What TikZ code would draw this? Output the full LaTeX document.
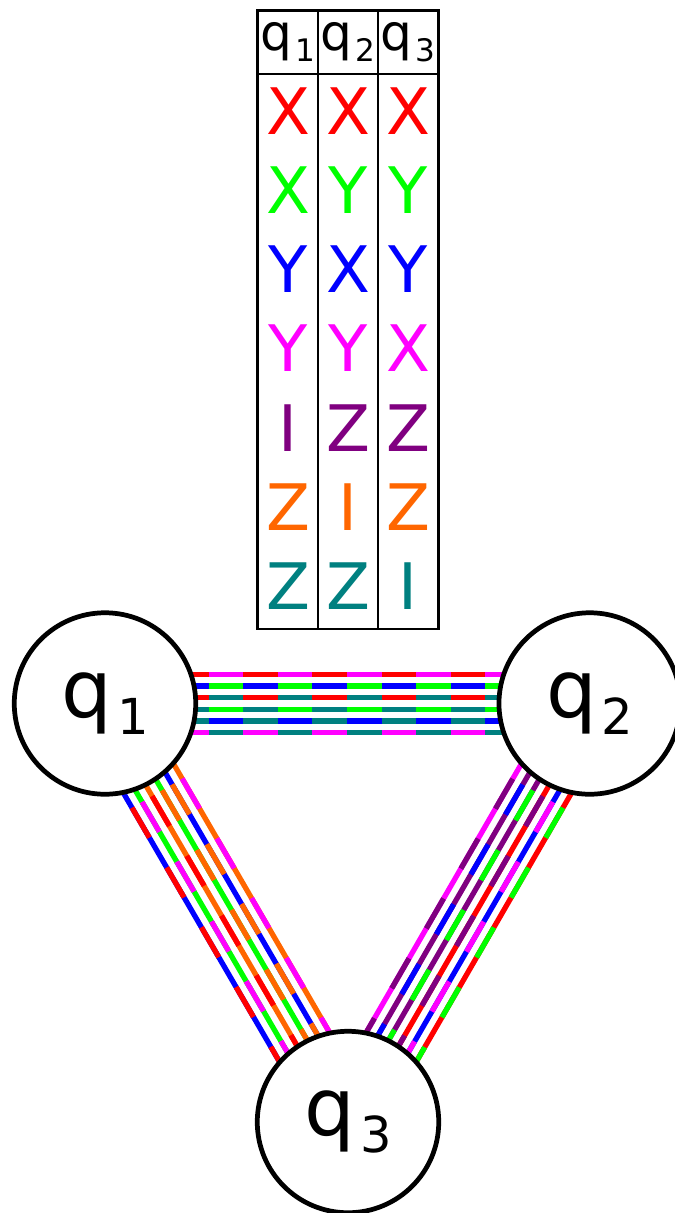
\documentclass[tikz,border=0pt]{standalone}
\usepackage{fontspec}
\usepackage{graphicx}
\setmainfont{DejaVu Sans}
\usetikzlibrary{calc, backgrounds}
\definecolor{pxred}{HTML}{FF0000}
\definecolor{pxgreen}{HTML}{00FF00}
\definecolor{pxblue}{HTML}{0000FF}
\definecolor{pxmag}{HTML}{FF00FF}
\definecolor{pxpurple}{HTML}{800080}
\definecolor{pxorange}{HTML}{FF6600}
\definecolor{pxteal}{HTML}{008080}
\newcommand{\qlab}[1]{q\kern0.06em\raisebox{-0.21em}{\scalebox{0.62}{#1}}}
\tikzset{
  qubit/.style={draw, circle, line width=2.7pt, fill=white, minimum size=3.63cm, inner sep=0pt, font=\fontsize{45.5}{45.5}\selectfont},
  head/.style={inner sep=0pt, font=\fontsize{28.5}{28.5}\selectfont},
  cell/.style={inner sep=0pt, text=#1, font=\fontsize{36.5}{36.5}\selectfont},
  grid/.style={line width=1.25pt},
  link/.style={line width=3pt, draw=#1},
  altdash/.style={dash pattern=on 0.6914cm off 0.6914cm, dash phase=0.6914cm},
}

\begin{document}
\begin{tikzpicture}[x=0.02cm, y=-0.02cm]
  \useasboundingbox (0,0) rectangle (675,1213);
  % table of terms
  \draw[grid] (257.5,10.5) rectangle (438.5,629);
  \draw[grid] (257.5,74) -- (438.5,74);
  \draw[grid] (318.3,10.5) -- (318.3,629);
  \draw[grid] (378.3,10.5) -- (378.3,629);
  \node[head] (h1) at (288,42) {\qlab{1}};
  \node[head] (h2) at (348,42) {\qlab{2}};
  \node[head] (h3) at (408,42) {\qlab{3}};
  \foreach \a/\b/\c/\col [count=\i] in {X/X/X/pxred, X/Y/Y/pxgreen, Y/X/Y/pxblue, Y/Y/X/pxmag, I/Z/Z/pxpurple, Z/I/Z/pxorange, Z/Z/I/pxteal} {
    \node[cell=\col] (r\i c1) at (288,{74+79.3*(\i-0.5)-3}) {\a};
    \node[cell=\col] (r\i c2) at (348,{74+79.3*(\i-0.5)-3}) {\b};
    \node[cell=\col] (r\i c3) at (408,{74+79.3*(\i-0.5)-3}) {\c};
  }
  % qubits
  \node[qubit] (q1) at (105,703.5) {\qlab{1}};
  \node[qubit] (q2) at (589.7,703.5) {\qlab{2}};
  \node[qubit] (q3) at (348,1122) {\qlab{3}};
  % two-colour links
  \begin{scope}[on background layer]
  \foreach \o/\ca/\cb in {0.58cm/pxred/pxmag, 0.348cm/pxblue/pxgreen, 0.116cm/pxred/pxteal, -0.116cm/pxteal/pxgreen, -0.348cm/pxteal/pxblue, -0.58cm/pxmag/pxteal} {
    \draw[link=\ca] ($(q1)!\o!90:(q2)$) -- ($(q2)!\o!-90:(q1)$);
    \draw[link=\cb, altdash] ($(q1)!\o!90:(q2)$) -- ($(q2)!\o!-90:(q1)$);
  }
  \foreach \o/\ca/\cb in {-0.58cm/pxblue/pxred, -0.348cm/pxgreen/pxmag, -0.116cm/pxorange/pxred, 0.116cm/pxgreen/pxorange, 0.348cm/pxblue/pxorange, 0.58cm/pxorange/pxmag} {
    \draw[link=\ca] ($(q1)!\o!90:(q3)$) -- ($(q3)!\o!-90:(q1)$);
    \draw[link=\cb, altdash] ($(q1)!\o!90:(q3)$) -- ($(q3)!\o!-90:(q1)$);
  }
  \foreach \o/\ca/\cb in {-0.58cm/pxmag/pxpurple, -0.348cm/pxpurple/pxblue, -0.116cm/pxpurple/pxgreen, 0.116cm/pxred/pxpurple, 0.348cm/pxblue/pxmag, 0.58cm/pxred/pxgreen} {
    \draw[link=\ca] ($(q2)!\o!90:(q3)$) -- ($(q3)!\o!-90:(q2)$);
    \draw[link=\cb, altdash] ($(q2)!\o!90:(q3)$) -- ($(q3)!\o!-90:(q2)$);
  }
  \end{scope}
\end{tikzpicture}
\end{document}
